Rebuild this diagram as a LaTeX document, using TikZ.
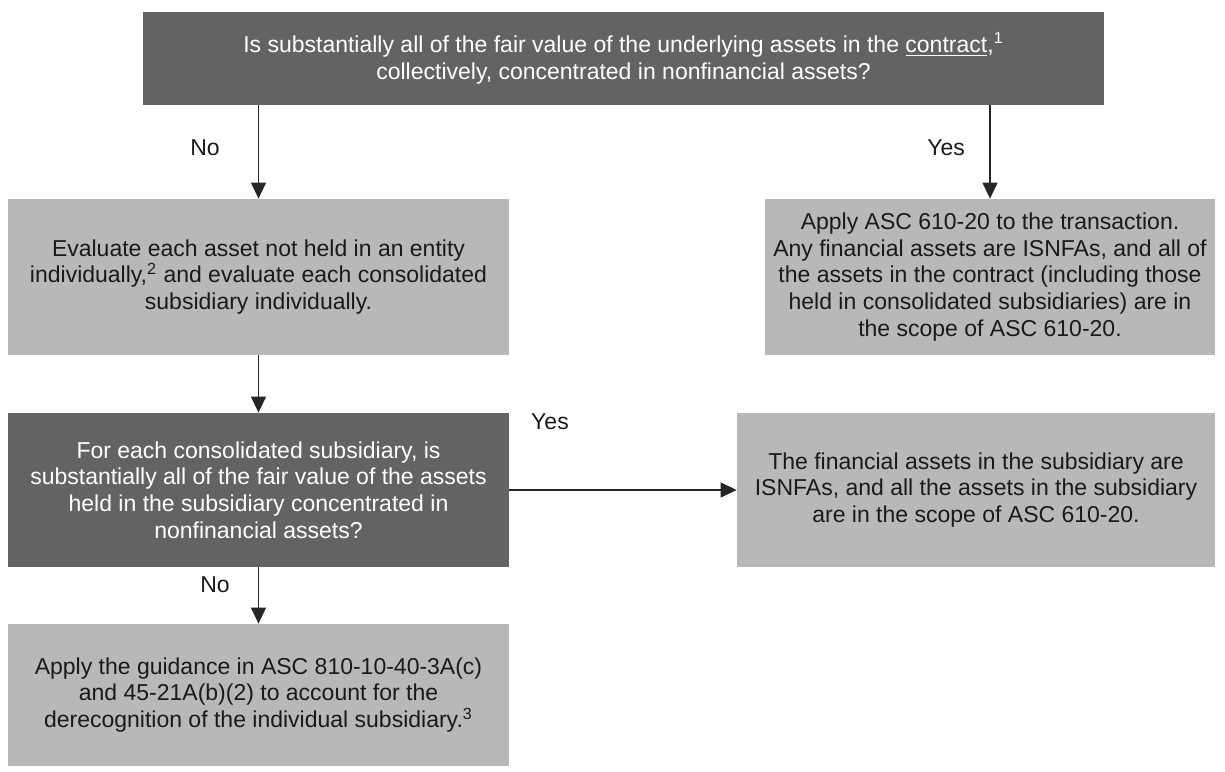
\documentclass[tikz,border=0pt]{standalone}
\usepackage{fontspec}
\setmainfont{Liberation Sans}
\usepackage{xcolor}
\usetikzlibrary{arrows.meta}

\definecolor{boxdark}{HTML}{636363}
\definecolor{boxlight}{HTML}{B8B8B8}
\definecolor{inkdark}{HTML}{1A1A1A}

\tikzset{
  darkbox/.style={rectangle, fill=boxdark, text=white, align=center, inner sep=0pt,
    font=\fontsize{11.5}{13.4}\selectfont},
  lightbox/.style={rectangle, fill=boxlight, text=inkdark, align=center, inner sep=0pt,
    font=\fontsize{11.5}{13.4}\selectfont},
  answer/.style={text=inkdark, font=\fontsize{11.5}{13.4}\selectfont},
  arr/.style={draw=black!85, line width=0.65pt, -{Triangle[width=7.5pt,length=8pt]}}
}

\begin{document}
\begin{tikzpicture}[x=0.5pt, y=-0.5pt]
  \useasboundingbox (0,0) rectangle (1225,771);

  % Question at the top
  \node[darkbox, minimum width=480.5pt, minimum height=46.5pt] (top) at (623.5, 58.5)
    {Is substantially all of the fair value of the underlying assets in the \underline{contract},\textsuperscript{1}\\
     collectively, concentrated in nonfinancial assets?};

  % Second row
  \node[lightbox, minimum width=250.5pt, minimum height=78pt] (eval) at (258.5, 277)
    {Evaluate each asset not held in an entity\\
     individually,\textsuperscript{2} and evaluate each consolidated\\
     subsidiary individually.};
  \node[lightbox, minimum width=225pt, minimum height=78pt] (apply) at (990, 277)
    {Apply ASC 610-20 to the transaction.\\
     Any financial assets are ISNFAs, and all of\\
     the assets in the contract (including those\\
     held in consolidated subsidiaries) are in\\
     the scope of ASC 610-20.};

  % Third row
  \node[darkbox, minimum width=250.5pt, minimum height=77pt] (each) at (258.5, 490)
    {For each consolidated subsidiary, is\\
     substantially all of the fair value of the assets\\
     held in the subsidiary concentrated in\\
     nonfinancial assets?};
  \node[lightbox, minimum width=239pt, minimum height=77pt] (fin) at (976, 490)
    {The financial assets in the subsidiary are\\
     ISNFAs, and all the assets in the subsidiary\\
     are in the scope of ASC 610-20.};

  % Bottom
  \node[lightbox, minimum width=250.5pt, minimum height=71pt] (guid) at (258.5, 695)
    {Apply the guidance in ASC 810-10-40-3A(c)\\
     and 45-21A(b)(2) to account for the\\
     derecognition of the individual subsidiary.\textsuperscript{3}};

  % Answers
  \node[answer] (noA) at (205, 148) {No};
  \node[answer] (yesA) at (946, 148) {Yes};
  \node[answer] (yesB) at (550, 422) {Yes};
  \node[answer] (noB) at (215, 585) {No};

  % Arrows
  \draw[arr] (eval.north |- top.south) -- (eval.north);
  \draw[arr] (apply.north |- top.south) -- (apply.north);
  \draw[arr] (eval) -- (each);
  \draw[arr] (each.east) -- (fin.west);
  \draw[arr] (each) -- (guid);
\end{tikzpicture}
\end{document}
